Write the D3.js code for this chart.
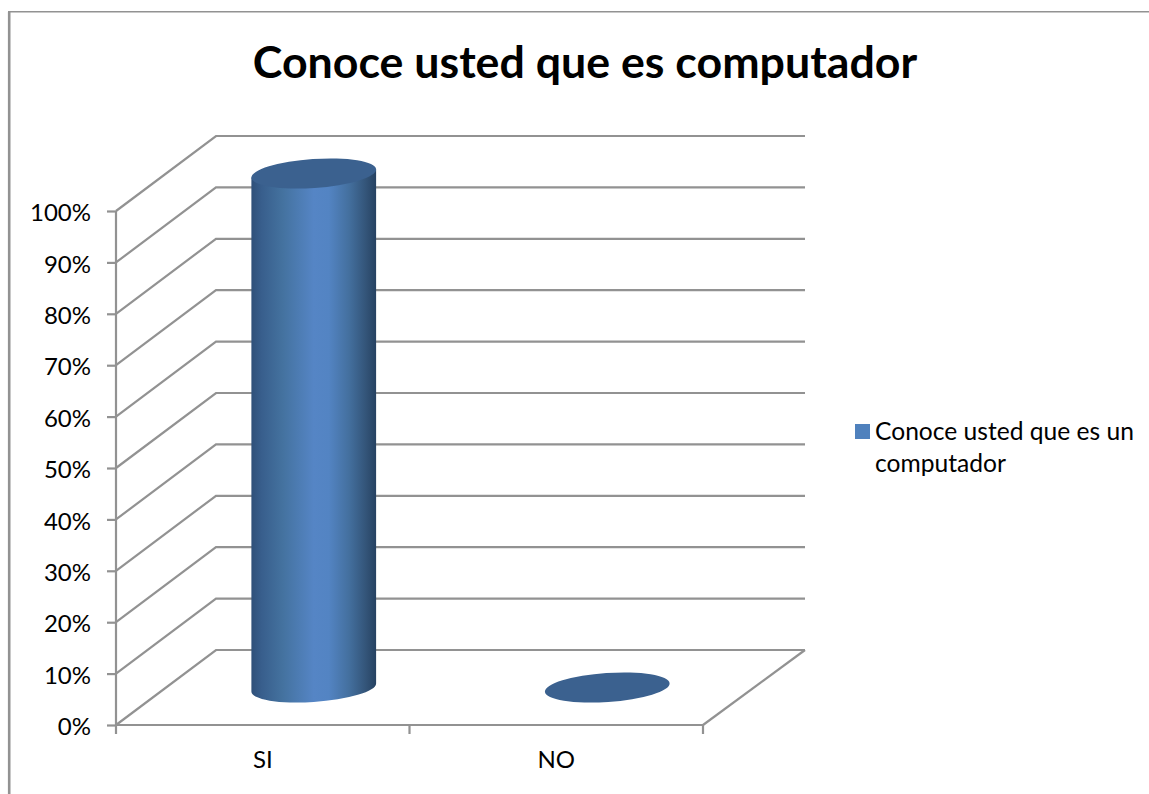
<!DOCTYPE html>
<html><head><meta charset="utf-8">
<script src="https://cdn.jsdelivr.net/npm/d3@7/dist/d3.min.js"></script>
<style>html,body{margin:0;padding:0;background:#fff}svg{display:block}text{font-family:Lato,"Open Sans",sans-serif;fill:#000}</style>
</head><body><div id="c"></div>
<script>
const title = "Conoce usted que es computador";
const categories = ["SI", "NO"];
const values = [100, 0];
const legendLines = ["Conoce usted que es un", "computador"];
const yTicks = [0,10,20,30,40,50,60,70,80,90,100];

const W=1149,H=794, grey="#929292";
const svg=d3.select("#c").append("svg").attr("width",W).attr("height",H);
const depthX=100, depthY=-75, backRight=805;
const x=d3.scaleBand().domain(categories).range([116,703]);
const y=d3.scaleLinear().domain([0,100]).range([725,211]);

const defs=svg.append("defs");
const g=defs.append("linearGradient").attr("id","cyl");
[[0,"#2f5079"],[.08,"#385e8c"],[.25,"#44729f"],[.5,"#5585c5"],[.62,"#5384c3"],[.78,"#44709f"],[.92,"#335478"],[1,"#264262"]]
 .forEach(([o,c])=>g.append("stop").attr("offset",o).attr("stop-color",c));

// frame
svg.append("path").attr("d",`M9.2,${H}V11.7`).attr("fill","none").attr("stroke",grey).attr("stroke-width",2.6);
svg.append("path").attr("d",`M8,11.7H${W}`).attr("fill","none").attr("stroke",grey).attr("stroke-width",1.6);

// walls
const grid=svg.append("g").attr("fill","none").attr("stroke",grey).attr("stroke-width",2.2);
grid.selectAll("path").data(yTicks).join("path")
 .attr("d",d=>`M116,${y(d)}L${116+depthX},${y(d)+depthY}H${backRight}`);
grid.append("path").attr("d",`M703,${y(0)}L${backRight},${y(0)+depthY}`);

// axes
const ax=svg.append("g").attr("transform","translate(116,0)")
 .call(d3.axisLeft(y).tickValues(yTicks).tickFormat(d=>d+"%").tickSize(9).tickPadding(16));
const bx=svg.append("g").attr("transform",`translate(0,${y(0)})`)
 .call(d3.axisBottom(x).tickSize(9).tickPadding(17));
[ax,bx].forEach(a=>{a.selectAll("path,line").attr("stroke",grey).attr("stroke-width",2.2);
 a.selectAll("text").attr("font-size",24).attr("font-family",'Lato').attr("fill","#000");});
ax.selectAll("text").attr("dy","0.4em");
bx.select(".domain").attr("d","M116,0H703");
ax.select(".domain").attr("d",`M0,${y(100)}V${y(0)}`);
bx.selectAll(".tick line").remove();
bx.selectAll(".edge").data(x.range().concat([(x.range()[0]+x.range()[1])/2])).join("line")
 .attr("x1",d=>d).attr("x2",d=>d).attr("y1",0).attr("y2",9).attr("stroke",grey).attr("stroke-width",2.2);

// cylinders
const rx=62.5, ry=14.5, rot=-4, t=rot*Math.PI/180;
const tt=Math.atan2(-ry*Math.sin(t),rx*Math.cos(t));
const ex=rx*Math.cos(tt)*Math.cos(t)-ry*Math.sin(tt)*Math.sin(t);
const ey=rx*Math.cos(tt)*Math.sin(t)+ry*Math.sin(tt)*Math.cos(t);
const bars=svg.append("g");
categories.forEach((c,i)=>{
  const cx=x(c)+x.bandwidth()/2+depthX/2+1;
  const by=y(0)+depthY/2;
  const ty=y(values[i])+depthY/2;
  if(values[i]>0){
    bars.append("path")
     .attr("d",`M${cx-ex},${ty-ey}L${cx-ex},${by-ey}A${rx},${ry},${rot},0,0,${cx+ex},${by+ey}L${cx+ex},${ty+ey}Z`)
     .attr("fill","url(#cyl)");
  }
  bars.append("ellipse").attr("rx",rx).attr("ry",ry)
   .attr("transform",`translate(${cx},${ty}) rotate(${rot})`).attr("fill","#3b618f");
});

// title
svg.append("text").attr("x",585).attr("y",78).attr("text-anchor","middle")
 .attr("font-size",44.7).attr("font-weight",700).text(title);

// legend
svg.append("rect").attr("x",855).attr("y",424).attr("width",15).attr("height",15).attr("fill","#4f81bd");
legendLines.forEach((l,i)=>svg.append("text").attr("x",875).attr("y",440+i*32).attr("font-size",24.6).text(l));
</script></body></html>
